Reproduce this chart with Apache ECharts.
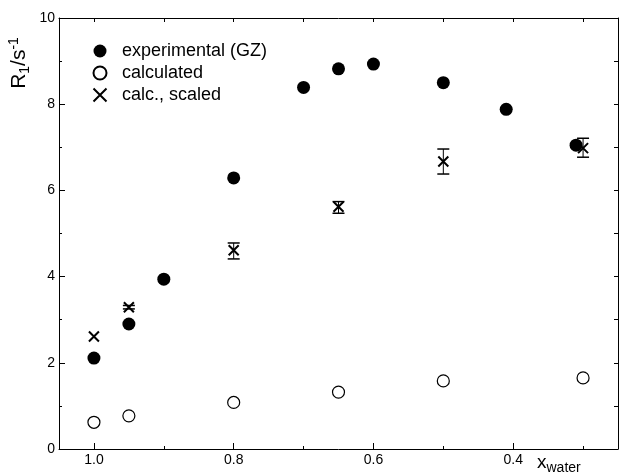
<!DOCTYPE html>
<html>
<head>
<meta charset="utf-8">
<script src="https://cdn.jsdelivr.net/npm/echarts@6/dist/echarts.min.js"></script>
<style>
html,body{margin:0;padding:0;background:#fff;}
#c{width:619px;height:472px;}
</style>
</head>
<body>
<div id="c"></div>
<script>
// Data
const xExp = [1.0, 0.95, 0.9, 0.8, 0.7, 0.65, 0.6, 0.5, 0.41, 0.31];
const yExp = [2.11, 2.90, 3.94, 6.29, 8.39, 8.82, 8.93, 8.50, 7.88, 7.05];
const xCalc = [1.0, 0.95, 0.8, 0.65, 0.5, 0.3];
const yCalc = [0.62, 0.77, 1.08, 1.32, 1.58, 1.65];
const xScaled = [1.0, 0.95, 0.8, 0.65, 0.5, 0.3];
const yScaled = [2.61, 3.29, 4.61, 5.62, 6.67, 6.98];
const errLow = [2.61, 3.25, 4.41, 5.47, 6.38, 6.77];
const errHigh = [2.61, 3.33, 4.78, 5.74, 6.96, 7.21];
const xMajorTicks = [1.0, 0.8, 0.6, 0.4];
const xMinorTicks = [0.9, 0.7, 0.5, 0.3];
const seriesNames = ['experimental (GZ)', 'calculated', 'calc., scaled'];

const FONT = 'Liberation Sans, Arial, Helvetica, sans-serif';
const chart = echarts.init(document.getElementById('c'), null, {renderer: 'canvas'});

const xBase = {type: 'value', min: 0.25, max: 1.05, inverse: true, splitLine: {show: false}};
const option = {
  animation: false,
  backgroundColor: '#fff',
  grid: {left: 59, right: 1, top: 18, bottom: 23, containLabel: false},
  legend: {
    data: seriesNames,
    orient: 'vertical',
    left: 86, top: 37,
    itemWidth: 34, itemHeight: 13, itemGap: 4,
    textStyle: {fontFamily: FONT, fontSize: 18, color: '#000'},
    selectedMode: false
  },
  xAxis: [
    Object.assign({}, xBase, {
      position: 'bottom',
      axisLine: {show: true, onZero: false, lineStyle: {color: '#000', width: 1}},
      axisTick: {show: true, inside: true, length: 6, customValues: xMajorTicks, lineStyle: {color: '#000'}},
      axisLabel: {show: true, customValues: xMajorTicks, margin: 4, fontFamily: FONT, fontSize: 14, color: '#000',
        formatter: v => v.toFixed(1)}
    }),
    Object.assign({}, xBase, {
      position: 'bottom',
      axisLine: {show: false, onZero: false},
      axisTick: {show: true, inside: true, length: 3, customValues: xMinorTicks, lineStyle: {color: '#000'}},
      axisLabel: {show: false}
    }),
    Object.assign({}, xBase, {
      position: 'top',
      axisLine: {show: true, onZero: false, lineStyle: {color: '#000', width: 1}},
      axisTick: {show: true, inside: true, length: 4, customValues: xMajorTicks.concat(xMinorTicks), lineStyle: {color: '#000'}},
      axisLabel: {show: false}
    })
  ],
  yAxis: [
    {
      type: 'value', min: 0, max: 10, interval: 2, position: 'left',
      splitLine: {show: false},
      axisLine: {show: true, onZero: false, lineStyle: {color: '#000', width: 1}},
      axisTick: {show: true, inside: true, length: 6, lineStyle: {color: '#000'}},
      minorTick: {show: true, splitNumber: 2, length: 3, lineStyle: {color: '#000'}},
      axisLabel: {margin: 4, fontFamily: FONT, fontSize: 14, color: '#000'}
    },
    {
      type: 'value', min: 0, max: 10, interval: 1, position: 'right',
      splitLine: {show: false},
      axisLine: {show: true, onZero: false, lineStyle: {color: '#000', width: 1}},
      axisTick: {show: true, inside: true, length: 4, lineStyle: {color: '#000'}},
      axisLabel: {show: false}
    }
  ],
  graphic: [
    {
      type: 'text', x: 19, y: 63, rotation: Math.PI / 2,
      style: {
        text: '{n|R}{sub|1}{n|/s}{sup|-1}',
        align: 'center', verticalAlign: 'middle',
        rich: {
          n: {fontFamily: FONT, fontSize: 21, fill: '#000', lineHeight: 30, verticalAlign: 'middle'},
          sub: {fontFamily: FONT, fontSize: 14, fill: '#000', lineHeight: 30, verticalAlign: 'bottom', padding: [0,0,2,0]},
          sup: {fontFamily: FONT, fontSize: 14, fill: '#000', lineHeight: 30, verticalAlign: 'top', padding: [3,0,0,0]}
        }
      }
    },
    {
      type: 'text', x: 537, y: 463,
      style: {
        text: '{n|x}{sub|water}',
        align: 'left', verticalAlign: 'middle',
        rich: {
          n: {fontFamily: FONT, fontSize: 19, fill: '#000', lineHeight: 24, verticalAlign: 'middle'},
          sub: {fontFamily: FONT, fontSize: 14, fill: '#000', lineHeight: 24, verticalAlign: 'bottom'}
        }
      }
    }
  ],
  series: [
    {
      name: 'calc., scaled-err', type: 'custom', xAxisIndex: 0, yAxisIndex: 0, z: 3,
      data: xScaled.map((x, i) => [x, errLow[i], errHigh[i]]),
      encode: {x: 0, y: [1, 2]},
      renderItem: function (params, api) {
        const x = api.value(0), lo = api.value(1), hi = api.value(2);
        if (hi - lo < 1e-9) return null;
        const p1 = api.coord([x, lo]), p2 = api.coord([x, hi]);
        const hw = 6;
        return {
          type: 'group',
          children: [
            {type: 'line', shape: {x1: p1[0], y1: p1[1], x2: p2[0], y2: p2[1]}, style: {stroke: '#000', lineWidth: 1}},
            {type: 'line', shape: {x1: p1[0] - hw, y1: p1[1], x2: p1[0] + hw, y2: p1[1]}, style: {stroke: '#000', lineWidth: 1.5}},
            {type: 'line', shape: {x1: p2[0] - hw, y1: p2[1], x2: p2[0] + hw, y2: p2[1]}, style: {stroke: '#000', lineWidth: 1.5}}
          ]
        };
      }
    },
    {
      name: seriesNames[0], type: 'scatter', xAxisIndex: 0, yAxisIndex: 0, z: 4,
      symbol: 'circle', symbolSize: 13,
      itemStyle: {color: '#000', opacity: 1},
      data: xExp.map((x, i) => [x, yExp[i]])
    },
    {
      name: seriesNames[1], type: 'scatter', xAxisIndex: 0, yAxisIndex: 0, z: 4,
      symbol: 'circle', symbolSize: 12,
      itemStyle: {color: '#fff', borderColor: '#000', borderWidth: 1.2, opacity: 1},
      data: xCalc.map((x, i) => [x, yCalc[i]])
    },
    {
      name: seriesNames[2], type: 'scatter', xAxisIndex: 0, yAxisIndex: 0, z: 5,
      symbol: 'path://M0,0L10,10M0,10L10,0', symbolSize: 10,
      itemStyle: {color: 'none', borderColor: '#000', borderWidth: 2, opacity: 1},
      data: xScaled.map((x, i) => [x, yScaled[i]])
    }
  ]
};
chart.setOption(option);
</script>
</body>
</html>
